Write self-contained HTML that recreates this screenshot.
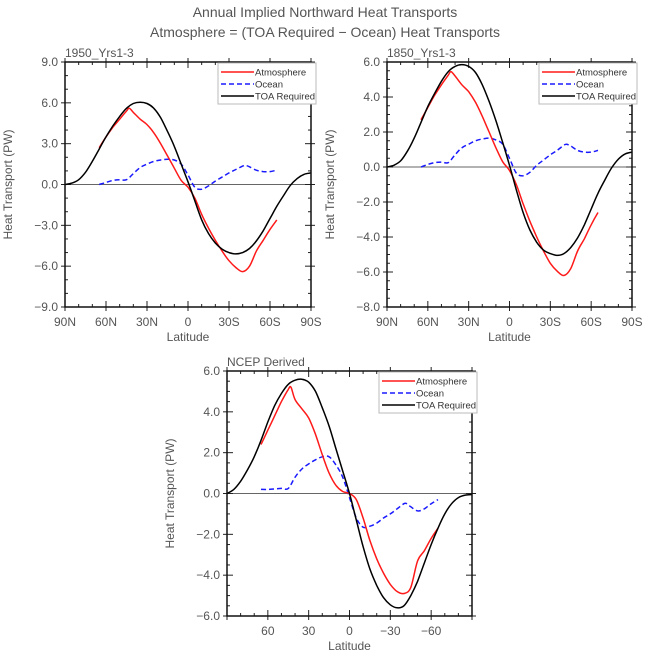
<!DOCTYPE html>
<html><head><meta charset="utf-8"><style>
body{margin:0;background:#fff;}
svg{display:block;font-family:"Liberation Sans",sans-serif;}
</style></head><body>
<svg id="c" width="649" height="661">
<text x="325" y="17" text-anchor="middle" font-size="14" fill="#555">Annual Implied Northward Heat Transports</text>
<text x="325" y="37" text-anchor="middle" font-size="14" fill="#555">Atmosphere = (TOA Required − Ocean) Heat Transports</text>
</svg>
<script>
// ---- Panel 1 data (1950_Yrs1-3) ----
const p1TOALat=[90,85,80,75,70,65,60,55,50,45,40,35,30,25,20,15,10,5,0,-5,-10,-15,-20,-25,-30,-35,-40,-45,-50,-55,-60,-65,-70,-75,-80,-85,-90];
const p1TOAVal=[0,0.1,0.35,0.9,1.7,2.6,3.5,4.3,5.0,5.6,5.95,6.05,5.95,5.6,4.9,3.9,2.8,1.5,0.2,-1.2,-2.6,-3.6,-4.3,-4.75,-5.0,-5.1,-5.0,-4.7,-4.15,-3.4,-2.5,-1.6,-0.8,-0.05,0.45,0.75,0.85];
const p1AtmLat=[65,60,55,50,45,43,40,35,30,25,20,15,10,5,0,-5,-10,-15,-20,-25,-30,-35,-40,-45,-50,-55,-60,-65];
const p1AtmVal=[2.7,3.5,4.2,4.8,5.4,5.6,5.3,4.8,4.4,3.8,3.0,2.1,1.2,0.3,-0.2,-1.0,-2.2,-3.2,-4.1,-4.9,-5.6,-6.1,-6.4,-6.0,-4.9,-4.1,-3.3,-2.6];
const p1OcnLat=[65,60,55,50,45,40,35,30,25,20,15,10,5,0,-5,-10,-15,-20,-25,-30,-35,-40,-42,-45,-50,-55,-60,-65];
const p1OcnVal=[0,0.15,0.3,0.35,0.35,0.8,1.25,1.5,1.7,1.8,1.85,1.8,1.5,0.7,-0.2,-0.35,-0.1,0.25,0.55,0.85,1.1,1.35,1.4,1.3,1.05,0.95,0.95,1.05];
// ---- Panel 2 data (1850_Yrs1-3) ----
const p2TOAVal=[0,0.1,0.35,0.9,1.65,2.55,3.45,4.2,4.9,5.45,5.75,5.85,5.75,5.4,4.7,3.75,2.65,1.4,0.1,-1.3,-2.6,-3.6,-4.3,-4.75,-4.95,-5.05,-4.95,-4.6,-4.05,-3.3,-2.4,-1.5,-0.75,-0.05,0.45,0.75,0.85];
const p2AtmVal=[2.7,3.4,4.1,4.7,5.25,5.45,5.2,4.7,4.3,3.7,2.9,2.0,1.1,0.3,-0.2,-1.0,-2.1,-3.1,-4.0,-4.8,-5.5,-5.95,-6.2,-5.8,-4.8,-4.1,-3.3,-2.6];
const p2OcnVal=[0,0.15,0.25,0.28,0.25,0.7,1.1,1.3,1.5,1.6,1.65,1.55,1.3,0.5,-0.35,-0.5,-0.3,0.1,0.4,0.7,0.95,1.25,1.3,1.2,0.95,0.85,0.85,0.95];
// ---- Panel 3 data (NCEP Derived) ----
const p3TOAVal=[0,0.2,0.6,1.15,1.8,2.6,3.5,4.3,4.9,5.35,5.55,5.6,5.45,5.0,4.2,3.3,2.2,1.1,0,-1.3,-2.6,-3.7,-4.5,-5.1,-5.45,-5.6,-5.5,-5.0,-4.3,-3.4,-2.5,-1.7,-1.0,-0.5,-0.2,-0.08,-0.05];
const p3AtmVal=[2.4,3.1,3.8,4.5,5.1,5.2,4.6,4.15,3.7,2.9,1.9,1.0,0.4,0.1,0,-0.3,-1.2,-2.3,-3.2,-3.9,-4.45,-4.8,-4.9,-4.6,-3.3,-2.8,-2.2,-1.7];
const p3OcnVal=[0.2,0.2,0.22,0.25,0.25,0.8,1.2,1.45,1.65,1.8,1.8,1.4,0.8,-0.2,-1.2,-1.65,-1.6,-1.45,-1.2,-1.0,-0.75,-0.5,-0.5,-0.65,-0.85,-0.75,-0.5,-0.3];
// ---- axis tick labels ----
const p1YTicks=[-9,-6,-3,0,3,6,9];
const p23YTicksA=[-8,-6,-4,-2,0,2,4,6];
const p3YTicks=[-6,-4,-2,0,2,4,6];
const xTickVals=[90,60,30,0,-30,-60,-90];
const xLabelsNS=["90N","60N","30N","0","30S","60S","90S"];
const xLabelsNum=["","60","30","0","−30","−60",""];

const NS="http://www.w3.org/2000/svg";
const svg=document.getElementById('c');
function mk(tag,attrs,parent){const e=document.createElementNS(NS,tag);for(const k in attrs)e.setAttribute(k,attrs[k]);(parent||svg).appendChild(e);return e;}
function fmt(v){const s=Math.abs(v).toFixed(1);return v<0?'−'+s:s;}
function smoothPath(P){
  let d='M'+P[0][0].toFixed(1)+','+P[0][1].toFixed(1);
  for(let i=0;i<P.length-1;i++){
    const p0=P[Math.max(0,i-1)],p1=P[i],p2=P[i+1],p3=P[Math.min(P.length-1,i+2)];
    const c1x=p1[0]+(p2[0]-p0[0])/6,c1y=p1[1]+(p2[1]-p0[1])/6;
    const c2x=p2[0]-(p3[0]-p1[0])/6,c2y=p2[1]-(p3[1]-p1[1])/6;
    d+=` C${c1x.toFixed(1)},${c1y.toFixed(1)} ${c2x.toFixed(1)},${c2y.toFixed(1)} ${p2[0].toFixed(1)},${p2[1].toFixed(1)}`;
  }
  return d;
}

function panel(cfg){
  const g=mk('g',{});
  
  
  const L=cfg.x0,R=cfg.x1,T=cfg.y0,B=cfg.y1;
  const sx=lat=>L+(90-lat)/180*(R-L);
  const sy=v=>B-(v-cfg.ymin)/(cfg.ymax-cfg.ymin)*(B-T);
  const lab=mk('text',{x:L,y:T-5,'font-size':12,fill:'#555'},g);lab.textContent=cfg.label;
  
  
  mk('line',{x1:L,x2:R,y1:sy(0),y2:sy(0),stroke:'#333','stroke-width':0.8},g);
  for(let v=cfg.ymin;v<=cfg.ymax+1e-9;v+=cfg.yminor){
    const y=sy(v);const major=Math.abs((v-cfg.ymin)/cfg.ymajor-Math.round((v-cfg.ymin)/cfg.ymajor))<1e-6;
    const len=major?6:3;
    mk('line',{x1:L-(major?4:0),x2:L+len,y1:y,y2:y,stroke:'#222','stroke-width':1},g);
    mk('line',{x1:R-len,x2:R+(major?4:0),y1:y,y2:y,stroke:'#222','stroke-width':1},g);
  }
  cfg.yticks.forEach(v=>{
    const t=mk('text',{x:L-7,y:sy(v)+4,'text-anchor':'end','font-size':12,fill:'#555'},g);t.textContent=fmt(v);
    
    
  });
  for(let lat=90;lat>=-90;lat-=10){
    const x=sx(lat);const major=lat%30===0;const len=major?6:3;
    mk('line',{x1:x,x2:x,y1:B+(major?4:0),y2:B-len,stroke:'#222','stroke-width':1},g);
    mk('line',{x1:x,x2:x,y1:T+len,y2:T-(major?4:0),stroke:'#222','stroke-width':1},g);
  }
  xTickVals.forEach((lat,i)=>{
    const s=cfg.xlabels[i];if(!s)return;
    const t=mk('text',{x:sx(lat),y:B+19,'text-anchor':'middle','font-size':12,fill:'#555'},g);t.textContent=s;
    
    
  });
  const xt=mk('text',{x:(L+R)/2,y:B+34,'text-anchor':'middle','font-size':12,fill:'#555'},g);xt.textContent='Latitude';
  
  
  const yx=L-53,yy=(T+B)/2;
  const yt=mk('text',{x:yx,y:yy,'text-anchor':'middle','font-size':12,fill:'#555',transform:`rotate(-90 ${yx} ${yy})`},g);yt.textContent='Heat Transport (PW)';
  
  
  function line(lats,vals,color,dash,nm){
    const P=lats.map((la,i)=>[sx(la),sy(vals[i])]);
    const p=mk('path',{d:smoothPath(P),fill:'none',stroke:color,'stroke-width':1.5,'stroke-linejoin':'round'},g);
    if(dash)p.setAttribute('stroke-dasharray','5,3');
    
    
  }
  line(p1OcnLat,cfg.ocn,'#1a1aff',true,'ocean-line');
  line(p1AtmLat,cfg.atm,'#ff1a1a',false,'atmosphere-line');
  line(p1TOALat,cfg.toa,'#000',false,'toa-required-line');
  mk('rect',{x:L,y:T,width:R-L,height:B-T,fill:'none',stroke:'#111','stroke-width':1.5},g);
  const lg=mk('g',{},g);
  
  
  const lx=R-93,ly=T+1;
  mk('rect',{x:lx,y:ly,width:98,height:41,fill:'#fff',stroke:'#bbb','stroke-width':1},lg);
  [['Atmosphere','#ff1a1a',false],['Ocean','#1a1aff',true],['TOA Required','#000',false]].forEach((e,i)=>{
    const y=ly+9+i*12;
    const l=mk('line',{x1:lx+3,x2:lx+36,y1:y,y2:y,stroke:e[1],'stroke-width':1.5},lg);
    if(e[2])l.setAttribute('stroke-dasharray','5,3');
    const t=mk('text',{x:lx+37,y:y+3.5,'font-size':9.5,fill:'#333'},lg);t.textContent=e[0];
    
    
  });
}
panel({name:'panel-1950',label:'1950_Yrs1-3',x0:65,x1:311,y0:62,y1:307,ymin:-9,ymax:9,ymajor:3,yminor:1,yticks:p1YTicks,xlabels:xLabelsNS,toa:p1TOAVal,atm:p1AtmVal,ocn:p1OcnVal});
panel({name:'panel-1850',label:'1850_Yrs1-3',x0:387,x1:632,y0:62,y1:307,ymin:-8,ymax:6,ymajor:2,yminor:0.5,yticks:p23YTicksA,xlabels:xLabelsNS,toa:p2TOAVal,atm:p2AtmVal,ocn:p2OcnVal});
panel({name:'panel-ncep',label:'NCEP Derived',x0:227,x1:472,y0:371,y1:616,ymin:-6,ymax:6,ymajor:2,yminor:0.5,yticks:p3YTicks,xlabels:xLabelsNum,toa:p3TOAVal,atm:p3AtmVal,ocn:p3OcnVal});
</script>
</body></html>
